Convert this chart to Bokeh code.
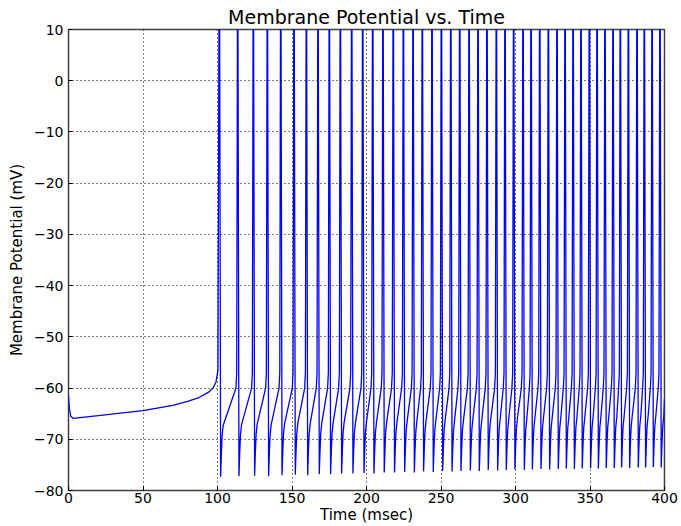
from bokeh.plotting import figure
from bokeh.embed import file_html
from bokeh.resources import INLINE
from bokeh.models import FixedTicker, CustomJSTickFormatter, Range1d

# ---- data ----
# resting segment before the first spike (time ms, potential mV)
rest_t = [0.0, 0.6, 1.5, 3.0, 20.0, 50.0, 70.0, 80.0, 88.0, 94.0, 97.0, 99.0, 100.3]
rest_v = [-61.5, -64.0, -65.5, -65.9, -65.4, -64.4, -63.4, -62.6, -61.8, -60.8, -60.0, -58.8, -56.5]

# times at which each spike crosses the top of the plot (ms)
spike_times = [100.9, 113.2, 123.7, 133.1, 142.1, 151.0, 159.3, 167.1, 174.7, 182.1,
               189.7, 197.1, 203.8, 210.7, 217.6, 224.4, 230.9, 237.1, 243.6, 249.9,
               256.2, 262.2, 268.5, 274.5, 280.5, 286.8, 292.6, 298.4, 304.7, 310.1,
               315.9, 321.7, 327.5, 332.9, 338.3, 343.6, 349.2, 354.4, 359.7, 365.1,
               370.0, 375.4, 381.2, 386.1, 391.3, 396.6]
# after-hyperpolarisation minimum following each spike (mV)
trough_mv = [-77.3, -77.2, -77.1, -77.2, -77.0, -76.9, -77.0, -76.8, -76.8, -76.7,
             -76.7, -76.6, -76.7, -76.5, -76.5, -76.4, -76.5, -76.3, -76.4, -76.2,
             -76.3, -76.2, -76.1, -76.2, -76.0, -76.1, -76.0, -75.9, -76.0, -75.9,
             -75.8, -75.9, -75.8, -75.7, -75.8, -75.7, -75.6, -75.7, -75.6, -75.6,
             -75.5, -75.6, -75.5, -75.5, -75.4, -75.5]
peak_mv = 35.0          # spike overshoot (off the top of the axes)
threshold_mv = -60.0    # level where the slow depolarisation turns into a spike
end_mv = -62.0          # value at t = 400 ms

x_ticks = [0, 50, 100, 150, 200, 250, 300, 350, 400]
y_ticks = [-80, -70, -60, -50, -40, -30, -20, -10, 0, 10]

# ---- assemble the trace from the read values ----
t = list(rest_t)
v = list(rest_v)
for i, ts in enumerate(spike_times):
    vt = trough_mv[i]
    if i > 0:
        t += [ts - 0.8, ts - 0.3]
        v += [threshold_mv, threshold_mv + 3.0]
    t += [ts + 0.35, ts + 1.2, ts + 1.7, ts + 2.2, ts + 2.9]
    v += [peak_mv, vt, vt + 4.5, vt + 8.0, vt + 10.0]
t.append(400.0)
v.append(end_mv)

FONT = "DejaVu Sans"

p = figure(width=681, height=526, output_backend="svg", toolbar_location=None,
           x_range=Range1d(0, 400), y_range=Range1d(-80, 10),
           min_border_left=68, min_border_right=17, min_border_top=29, min_border_bottom=35,
           title="Membrane Potential vs. Time")
p.line(t, v, line_color="#0000ff", line_width=1.3)

p.title.align = "center"
p.title.text_font = FONT
p.title.text_font_size = "19px"
p.title.text_font_style = "normal"
p.title.text_color = "black"
p.title.offset = 0
p.title.standoff = 3

for ax in (p.xaxis[0], p.yaxis[0]):
    ax.axis_line_color = None
    ax.major_tick_in = 4
    ax.major_tick_out = 0
    ax.minor_tick_line_color = None
    ax.major_tick_line_color = "black"
    ax.major_label_text_font = FONT
    ax.major_label_text_font_size = "14px"
    ax.major_label_text_color = "black"
    ax.axis_label_text_font = FONT
    ax.axis_label_text_font_size = "15px"
    ax.axis_label_text_font_style = "normal"
    ax.axis_label_text_color = "black"

p.xaxis[0].ticker = FixedTicker(ticks=x_ticks)
p.yaxis[0].ticker = FixedTicker(ticks=y_ticks)
p.xaxis[0].formatter = CustomJSTickFormatter(code="return tick < 0 ? '\u2212' + Math.abs(tick) : String(tick);")
p.yaxis[0].formatter = CustomJSTickFormatter(code="return tick < 0 ? '\u2212' + Math.abs(tick) : String(tick);")
p.xaxis[0].axis_label = "Time (msec)"
p.yaxis[0].axis_label = "Membrane Potential (mV)"
p.xaxis[0].major_label_standoff = 2
p.xaxis[0].axis_label_standoff = 0
p.yaxis[0].major_label_standoff = 5
p.yaxis[0].axis_label_standoff = 5

p.xgrid[0].ticker = FixedTicker(ticks=x_ticks)
p.ygrid[0].ticker = FixedTicker(ticks=y_ticks)
for g in (p.xgrid[0], p.ygrid[0]):
    g.grid_line_color = "black"
    g.grid_line_dash = "1 3"
    g.grid_line_width = 1
    g.grid_line_alpha = 1.0
    g.level = "overlay"

p.outline_line_color = "#404040"
p.outline_line_width = 1.5
p.background_fill_color = "white"
p.border_fill_color = "white"

open("out.html", "w").write(file_html(p, INLINE))
